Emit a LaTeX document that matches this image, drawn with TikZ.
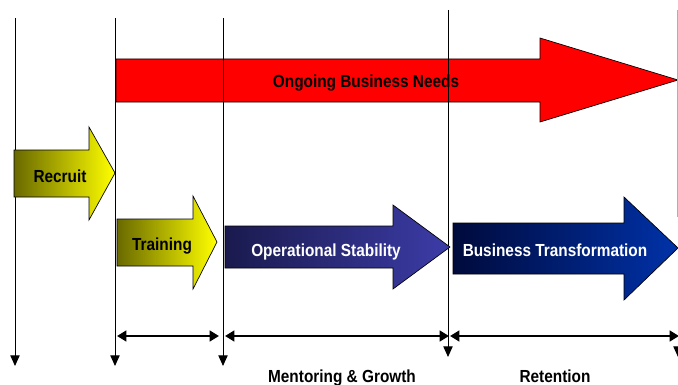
\documentclass[tikz,border=0pt]{standalone}
\usepackage{fontspec}
\setmainfont{Liberation Sans}
\usetikzlibrary{arrows.meta}
\definecolor{olivedark}{RGB}{105,105,0}
\definecolor{olivemid}{RGB}{215,215,0}
\definecolor{navyL}{RGB}{26,26,78}
\definecolor{navyR}{RGB}{60,60,168}
\definecolor{btL}{RGB}{0,10,60}
\definecolor{btR}{RGB}{0,50,168}
\definecolor{edgegray}{RGB}{175,175,175}
\tikzset{
  blockarrow/.style={draw=black, line width=0.5pt},
  lbl/.style={anchor=base, inner sep=0pt, font=\fontsize{13.1}{15}\selectfont\bfseries},
  vline/.style={line width=0.75pt, -{Triangle[width=7pt,length=8pt]}},
  span/.style={line width=2.2pt, {Triangle[width=8pt,length=7pt]}-{Triangle[width=8pt,length=7pt]}},
}
\newcommand{\sq}[1]{\scalebox{0.88}[1]{#1}}
\begin{document}
\begin{tikzpicture}[x=0.75pt,y=-0.75pt]
\useasboundingbox (0,0) rectangle (678,385);
% red arrow
\filldraw[blockarrow, fill=red] (116,59) -- (540,59) -- (540,38) -- (678,80) -- (540,122) -- (540,102) -- (116,102) -- cycle;
% coordinates for vertical lines
\coordinate (t1) at (15,18);   \coordinate (b1) at (15,366);
\coordinate (t2) at (115,18);  \coordinate (b2) at (115,366);
\coordinate (t3) at (223,18);  \coordinate (b3) at (223,366);
\coordinate (t4) at (448,10);  \coordinate (b4) at (448,357);
\coordinate (t5) at (677,10);  \coordinate (m5) at (677,217);
\coordinate (s5) at (678,340); \coordinate (b5) at (678,357);
\draw[vline] (t1) -- (b1);
\draw[vline] (t2) -- (b2);
\draw[vline] (t3) -- (b3);
\draw[vline] (t4) -- (b4);
\draw[line width=0.75pt, edgegray] (t5) -- (m5);
\draw[vline] (s5) -- (b5);
% recruit
\shade[blockarrow, left color=olivedark, middle color=olivemid, right color=yellow] (14,150) -- (89,150) -- (89,127) -- (115,173) -- (89,220) -- (89,197) -- (14,197) -- cycle;
% training
\shade[blockarrow, left color=olivedark, middle color=olivemid, right color=yellow] (117,219) -- (193,219) -- (193,196) -- (217,242) -- (193,289) -- (193,266) -- (117,266) -- cycle;
% operational stability
\shade[blockarrow, left color=navyL, right color=navyR] (225,226) -- (393,226) -- (393,205) -- (450,247) -- (393,289) -- (393,268) -- (225,268) -- cycle;
% business transformation
\shade[blockarrow, left color=btL, right color=btR] (453,223) -- (624,223) -- (624,197) -- (678,248) -- (624,300) -- (624,274) -- (453,274) -- cycle;
% span arrows
\coordinate (h1a) at (117,336); \coordinate (h1b) at (219,336);
\coordinate (h2a) at (225,336); \coordinate (h2b) at (449,336);
\coordinate (h3a) at (450,336); \coordinate (h3b) at (679,336);
\draw[span] (h1a) -- (h1b);
\draw[span] (h2a) -- (h2b);
\draw[span] (h3a) -- (h3b);
% labels
\node[lbl] (needs) at (366,88) {\sq{Ongoing Business Needs}};
\node[lbl] (recruit) at (60,182) {\sq{Recruit}};
\node[lbl] (training) at (162,250) {\sq{Training}};
\node[lbl, text=white] (opstab) at (326,256) {\sq{Operational Stability}};
\node[lbl, text=white] (bustrans) at (555,256) {\sq{Business Transformation}};
\node[lbl] (mentor) at (342,382) {\sq{Mentoring \& Growth}};
\node[lbl] (retention) at (555,382) {\sq{Retention}};
\end{tikzpicture}
\end{document}
